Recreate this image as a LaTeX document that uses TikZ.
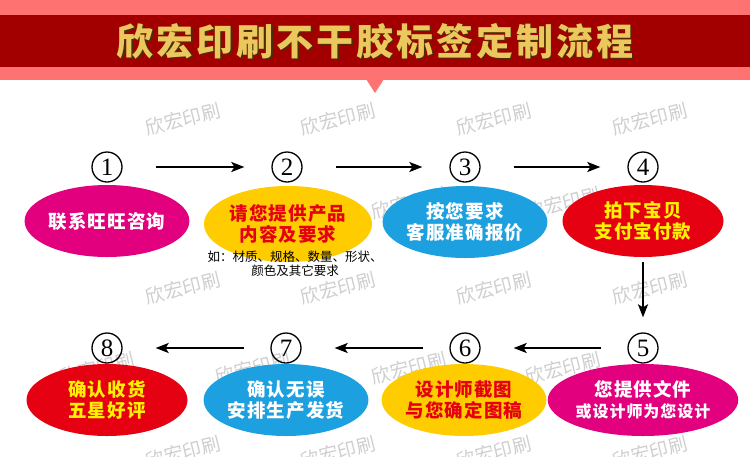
\documentclass[tikz,border=0pt]{standalone}
\usepackage{fontspec}
\setmainfont{Liberation Serif}
\newfontfamily\cjk{Noto Sans CJK SC}
\usetikzlibrary{arrows.meta,positioning,shapes.geometric}
\definecolor{BandPink}{HTML}{FF7272}
\definecolor{BandRed}{HTML}{A20000}
\definecolor{TitleGold}{HTML}{EAC85E}
\definecolor{TitleShade}{HTML}{4A2E00}
\definecolor{StepMagenta}{HTML}{E2007E}
\definecolor{StepYellow}{HTML}{FFCC00}
\definecolor{StepBlue}{HTML}{1CA0E0}
\definecolor{StepRed}{HTML}{E50012}
\definecolor{TextRed}{HTML}{E50012}
\definecolor{TextYellow}{HTML}{FFF100}
\definecolor{MarkGray}{HTML}{CFCFCF}

\begin{document}
\begin{tikzpicture}[x=1pt,y=-1pt,
  num/.style={circle,draw,line width=1.3pt,minimum size=30pt,inner sep=0pt,font=\fontsize{25}{25}\selectfont},
  stepbox/.style={ellipse,minimum width=161pt,minimum height=72pt,inner sep=0pt,align=center,
    font=\cjk\bfseries\fontsize{18.5}{21}\selectfont\addfontfeatures{LetterSpace=6}},
  arr/.style={-{Stealth[length=13pt,width=10pt,inset=3pt]},line width=2pt},
  wmark/.style={rotate=14,text=MarkGray,font=\cjk\fontsize{19}{19}\selectfont},
  titletext/.style={font=\cjk\bfseries\fontsize{37}{37}\selectfont\addfontfeatures{LetterSpace=8}}
]
\useasboundingbox[fill=white] (0,0) rectangle (750,456);

% title band
\fill[BandPink] (0,0) rectangle (750,80);
\fill[BandRed] (0,15) rectangle (750,67);
\fill[BandPink] (366,79) -- (384,79) -- (375,93) -- cycle;
\node[titletext,text=TitleShade] (titleshade) at (376.5,42.5) {欣宏印刷不干胶标签定制流程};
\node[titletext,text=TitleGold] (title) at (375,41) {欣宏印刷不干胶标签定制流程};

% watermarks
\foreach \y in {119,288,452}
  \foreach \x in {183,338,494,650}
    \node[wmark] at (\x,\y) {欣宏印刷};
\foreach \y in {203,368}
  \foreach \x in {97,253,409,563}
    \node[wmark] at (\x,\y) {欣宏印刷};

% step numbers
\node[num] (n1) at (107,167) {1};
\node[num] (n2) at (287,167) {2};
\node[num] (n3) at (465,167) {3};
\node[num] (n4) at (643,167) {4};
\node[num] (n5) at (643,348) {5};
\node[num] (n6) at (465,348) {6};
\node[num] (n7) at (286,348) {7};
\node[num] (n8) at (107,348) {8};

% steps
\node[stepbox,fill=StepMagenta,text=white] (s1) at (107,221) {联系旺旺咨询};
\node[stepbox,fill=StepYellow,text=TextRed,minimum width=168pt,minimum height=76pt] (s2) at (288,224) {请您提供产品\\内容及要求};
\node[stepbox,fill=StepBlue,text=white] (s3) at (465,222) {按您要求\\客服准确报价};
\node[stepbox,fill=StepRed,text=TextYellow] (s4) at (643,221) {拍下宝贝\\支付宝付款};
\node[stepbox,fill=StepMagenta,text=white] (s5) at (643,400) {您提供文件\\{\fontsize{16}{21}\selectfont 或设计师为您设计}};
\node[stepbox,fill=StepYellow,text=TextRed] (s6) at (464,400) {设计师截图\\与您确定图稿};
\node[stepbox,fill=StepBlue,text=white] (s7) at (286,400) {确认无误\\安排生产发货};
\node[stepbox,fill=StepRed,text=TextYellow] (s8) at (107,400) {确认收货\\五星好评};
\node[align=center,font=\cjk\fontsize{12.5}{14}\selectfont] (note) at (295,264) {如：材质、规格、数量、形状、\\颜色及其它要求};

% arrows
\draw[arr,shorten <=33pt,shorten >=27pt] (n1) -- (n2);
\draw[arr,shorten <=33pt,shorten >=27pt] (n2) -- (n3);
\draw[arr,shorten <=33pt,shorten >=27pt] (n3) -- (n4);
\draw[arr,shorten <=5pt,shorten >=15pt] (s4) -- (n5);
\draw[arr,shorten <=26pt,shorten >=33pt] (n5) -- (n6);
\draw[arr,shorten <=26pt,shorten >=33pt] (n6) -- (n7);
\draw[arr,shorten <=26pt,shorten >=33pt] (n7) -- (n8);
\end{tikzpicture}
\end{document}
